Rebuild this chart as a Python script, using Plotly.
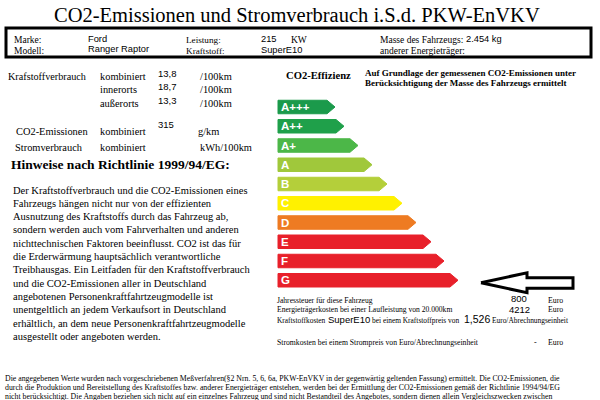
import plotly.graph_objects as go

# ---------------- data ----------------
title_text = "CO2-Emissionen und Stromverbrauch i.S.d. PKW-EnVKV"
marke = "Ford"
modell = "Ranger Raptor"
leistung_kw = "215"
kraftstoff = "SuperE10"
masse = "2.454 kg"

verbrauch_labels = ["kombiniert", "innerorts", "außerorts"]
verbrauch_values = ["13,8", "18,7", "13,3"]
co2_value = "315"

classes = ["A+++", "A++", "A+", "A", "B", "C", "D", "E", "F", "G"]
class_bar_end = [335, 344, 358, 372, 387, 402, 416, 431, 444, 458]
class_colors = ["#1b9a4b", "#1fa04a", "#4cb748", "#a0c83b", "#b4cf3a",
                "#fff100", "#ee7b22", "#e8202a", "#e8202a", "#e8202a"]
selected_class = "G"

jahressteuer = "800"
energiekosten = "4212"
kraftstoffpreis = "1,526"

hinweis_lines = [
    "Der Kraftstoffverbrauch und die CO2-Emissionen eines",
    "Fahrzeugs hängen nicht nur von der effizienten",
    "Ausnutzung des Kraftstoffs durch das Fahrzeug ab,",
    "sondern werden auch vom Fahrverhalten und anderen",
    "nichttechnischen Faktoren beeinflusst. CO2 ist das für",
    "die Erderwärmung hauptsächlich verantwortliche",
    "Treibhausgas. Ein Leitfaden für den Kraftstoffverbrauch",
    "und die CO2-Emissionen aller in Deutschland",
    "angebotenen Personenkraftfahrtzeugmodelle ist",
    "unentgeltlich an jedem Verkaufsort in Deutschland",
    "erhältlich, an dem neue Personenkraftfahrtzeugmodelle",
    "ausgestellt oder angeboten werden.",
]
footer_lines = [
    "Die angegebenen Werte wurden nach vorgeschriebenen Meßverfahren(§2 Nrn. 5, 6, 6a, PKW-EnVKV in der gegenwärtig geltenden Fassung) ermittelt. Die CO2-Emissionen, die",
    "durch die Produktion und Bereitstellung des Kraftstoffes bzw. anderer Energieträger entstehen, werden bei der Ermittlung der CO2-Emissionen gemäß der Richtlinie 1994/94/EG",
    "nicht berücksichtigt. Die Angaben beziehen sich nicht auf ein einzelnes Fahrzeug und sind nicht Bestandteil des Angebotes, sondern dienen allein Vergleichszwecken zwischen",
]

# ---------------- figure ----------------
SERIF = "Liberation Serif, Times New Roman, serif"
SANS = "Liberation Sans, Arial, sans-serif"

fig = go.Figure()
ann = []


def txt(x, y, s, size, font=SERIF, bold=False, color="black", anchor="left"):
    if bold:
        s = "<b>" + s + "</b>"
    ann.append(dict(x=x, y=y, xref="x", yref="y", text=s, showarrow=False,
                    xanchor=anchor, yanchor="middle",
                    font=dict(family=font, size=size, color=color)))


# title
txt(297, 15, title_text, 20.5, anchor="center")

# header box content
txt(12, 40, "Marke:", 9.5)
txt(12, 50.5, "Modell:", 9.5)
txt(86, 38.5, marke, 9.3, font=SANS)
txt(86, 48.5, modell, 9.3, font=SANS)
txt(184, 40, "Leistung:", 9.2)
txt(184, 50.5, "Kraftstoff:", 9.2)
txt(259, 38.5, leistung_kw, 9.3, font=SANS)
txt(289, 39.5, "KW", 9.5)
txt(259, 50, kraftstoff, 9.3, font=SANS)
txt(378, 40, "Masse des Fahrzeugs:", 9.5)
txt(464, 38.5, masse, 9.3, font=SANS)
txt(378, 51, "anderer Energieträger:", 9.5)

# consumption block
txt(6, 76, "Krafstoffverbrauch", 10.2)
row_y = [76, 89.5, 103]
for lab, val, y in zip(verbrauch_labels, verbrauch_values, row_y):
    txt(98, y, lab, 10.4)
    txt(156, y - 3, val, 9.5, font=SANS)
    txt(198, y, "/100km", 10.4)

txt(14, 131, "CO2-Emissionen", 10.4)
txt(98, 131, "kombiniert", 10.4)
txt(156, 124, co2_value, 9.5, font=SANS)
txt(196, 131, "g/km", 10.4)

txt(13, 147, "Stromverbrauch", 10.4)
txt(98, 147, "kombiniert", 10.4)
txt(198, 147, "kWh/100km", 10.4)

txt(9, 164, "Hinweise nach Richtlinie 1999/94/EG:", 13.5, bold=True)
for i, line in enumerate(hinweis_lines):
    txt(11, 190 + i * 13.3, line, 10.5)

# efficiency header
txt(284, 75, "CO2-Effizienz", 10.6, bold=True)
txt(363, 73, "Auf Grundlage der gemessenen CO2-Emissionen unter", 9, bold=True)
txt(363, 83, "Berücksichtigung der Masse des Fahrzeugs ermittelt", 9, bold=True)

# efficiency bars (arrow-shaped polygons)
bar_x0 = 278
bar_h = 13.5
for i, (c, end, col) in enumerate(zip(classes, class_bar_end, class_colors)):
    yc = 107 + i * 19.25
    t, b = yc - bar_h / 2, yc + bar_h / 2
    notch = 8
    xs = [bar_x0, end - notch, end, end - notch, bar_x0, bar_x0]
    ys = [t, t, yc, b, b, t]
    fig.add_trace(go.Scatter(x=xs, y=ys, mode="lines", fill="toself",
                             fillcolor=col, line=dict(color=col, width=1),
                             hoverinfo="skip", showlegend=False))
    txt(279, yc, c, 11.5, font=SANS, bold=True, color="white")

# selection arrow
sel = classes.index(selected_class)
ay = 107 + sel * 19.25 + 2.5
tip = 481
ax = [tip, tip + 46, tip + 46, tip + 92, tip + 92, tip + 46, tip + 46, tip]
ayy = [ay, ay - 10, ay - 5, ay - 5, ay + 5.5, ay + 5.5, ay + 10, ay]
fig.add_trace(go.Scatter(x=ax, y=ayy, mode="lines", fill="toself",
                         fillcolor="white", line=dict(color="black", width=3),
                         hoverinfo="skip", showlegend=False))

# costs block
txt(275, 300, "Jahressteuer für diese Fahrzeug", 7.6)
txt(519, 298, jahressteuer, 9.5, font=SANS, anchor="center")
txt(546, 300, "Euro", 7.8)
txt(275, 309.5, "Energieträgerkosten bei einer Laufleistung von 20.000km", 7.6)
txt(519, 309.5, energiekosten, 9.5, font=SANS, anchor="center")
txt(546, 309.5, "Euro", 7.8)
txt(275, 320, "Kraftstoffkosten", 7.4)
txt(326, 319.5, kraftstoff, 9.5, font=SANS)
txt(370, 320, "bei einem Kraftstoffpreis von", 7.4)
txt(462, 319, kraftstoffpreis, 10.5, font=SANS)
txt(490, 320, "Euro/Abrechnungseinheit", 7.4)
txt(275, 342, "Stromkosten bei einem Strompreis von Euro/Abrechnungseinheit", 7.7)
txt(535, 342, "-", 8, anchor="center")
txt(546, 342, "Euro", 7.8)

# footer
for i, line in enumerate(footer_lines):
    txt(3, 378.5 + i * 9.2, line, 7.8)

fig.update_layout(
    width=600, height=400,
    margin=dict(l=0, r=0, t=0, b=0),
    paper_bgcolor="white", plot_bgcolor="white",
    xaxis=dict(range=[0, 600], visible=False, fixedrange=True),
    yaxis=dict(range=[400, 0], visible=False, fixedrange=True),
    annotations=ann,
    shapes=[dict(type="rect", xref="x", yref="y", x0=6, y0=28, x1=591, y1=57,
                 line=dict(color="black", width=3))],
    showlegend=False,
)
# remove the default 8px page margin so the figure fills the window exactly
fig.write_html("out.html",
               config={"displayModeBar": False},
               post_script="document.body.style.margin='0px';"
                           "document.body.style.overflow='hidden';")
